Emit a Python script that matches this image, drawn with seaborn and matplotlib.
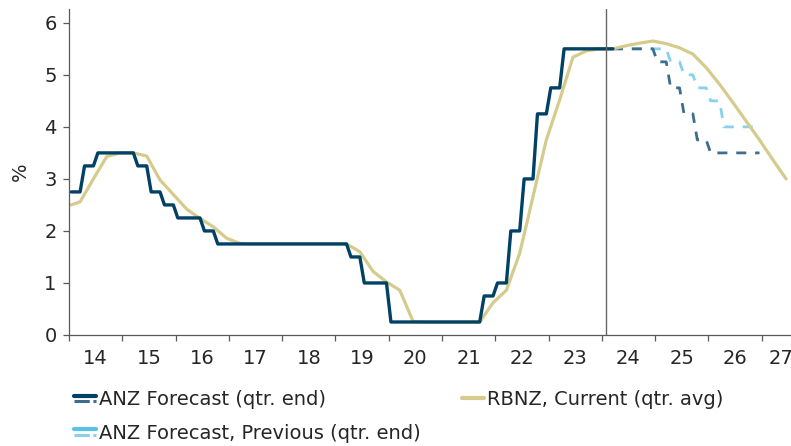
import numpy as np
import pandas as pd
import matplotlib.pyplot as plt
from matplotlib.lines import Line2D
from matplotlib.legend_handler import HandlerBase
import seaborn as sns

# ── Style ──────────────────────────────────────────────────
sns.set_theme(style="white")
plt.rcParams.update({
    'font.family'    : ['DejaVu Sans'],
    'font.size'      : 14,
    'axes.edgecolor' : '#595959',
    'axes.linewidth' : 0.9,
})

DARK       = '#004165'   # ANZ actual / forecast
DARK_DASH  = '#3E6D8D'
LIGHT      = '#5BC2E7'   # previous forecast
LIGHT_DASH = '#86D2EE'
TAN        = '#D4CB8C'   # RBNZ track
GREY       = '#666666'
FS         = 14

# ── Data (quarterly, % OCR) ────────────────────────────────
START_YEAR = 2014
anz_actual_qtr = [2.75, 3.25, 3.5, 3.5,     # 2014
                  3.5, 3.25, 2.75, 2.5,     # 2015
                  2.25, 2.25, 2.0, 1.75,    # 2016
                  1.75, 1.75, 1.75, 1.75,   # 2017
                  1.75, 1.75, 1.75, 1.75,   # 2018
                  1.75, 1.5, 1.0, 1.0,      # 2019
                  0.25, 0.25, 0.25, 0.25,   # 2020
                  0.25, 0.25, 0.25, 0.75,   # 2021
                  1.0, 2.0, 3.0, 4.25,      # 2022
                  4.75, 5.5, 5.5, 5.5,      # 2023
                  5.5]                      # 2024 Q1

FCST_YEAR = 2024
FCST_FIRST_MONTH = 3    # forecasts drawn from March 2024
anz_fcst_qtr = [5.5, 5.5, 5.5, 5.5,         # 2024
                5.25, 4.75, 4.25, 3.75,     # 2025
                3.5, 3.5, 3.5, 3.5]         # 2026
anz_prev_qtr = [5.5, 5.5, 5.5, 5.5,         # 2024
                5.5, 5.25, 5.0, 4.75,       # 2025
                4.5, 4.0, 4.0, 4.0]         # 2026

rbnz_jan14 = 2.5
rbnz_qtr = [2.56, 3.0, 3.43, 3.5,           # 2014
            3.5, 3.44, 2.98, 2.7,           # 2015
            2.42, 2.24, 2.08, 1.86,         # 2016
            1.76, 1.75, 1.75, 1.75,         # 2017
            1.75, 1.75, 1.75, 1.75,         # 2018
            1.75, 1.6, 1.22, 1.02,          # 2019
            0.86, 0.26, 0.25, 0.25,         # 2020
            0.25, 0.25, 0.25, 0.62,         # 2021
            0.86, 1.57, 2.66, 3.75,         # 2022
            4.52, 5.34, 5.46, 5.5,          # 2023
            5.5, 5.56, 5.61, 5.65,          # 2024
            5.6, 5.52, 5.4, 5.14,           # 2025
            4.82, 4.47, 4.11, 3.75,         # 2026
            3.37, 3.0]                      # 2027

year_labels = [str(y)[2:] for y in range(2014, 2028)]
MPS_DATE = 2024.08      # vertical marker
X_END, AXIS_END = 2027.55, 2027.74


def qtr_to_monthly(start_year, values):
    """Repeat each quarter-end value over its three months."""
    rows = []
    for i, v in enumerate(values):
        for m in range(3):
            rows.append((start_year + (3 * i + m + 0.5) / 12, v))
    return pd.DataFrame(rows, columns=['year', 'rate'])


actual = qtr_to_monthly(START_YEAR, anz_actual_qtr)
fcst = qtr_to_monthly(FCST_YEAR, anz_fcst_qtr)
prev = qtr_to_monthly(FCST_YEAR, anz_prev_qtr)
cut = FCST_YEAR + (FCST_FIRST_MONTH - 1) / 12
fcst, prev = fcst[fcst.year >= cut], prev[prev.year >= cut]

rbnz = pd.DataFrame({
    'year': [START_YEAR + 0.5 / 12] +
            [START_YEAR + (3 * i + 2.5) / 12 for i in range(len(rbnz_qtr))],
    'rate': [rbnz_jan14] + rbnz_qtr,
})


# ── Legend handler: solid over dashed ──────────────────────
class StackedHandler(HandlerBase):
    def __init__(self, top, bottom):
        super().__init__()
        self.top, self.bottom = top, bottom

    def create_artists(self, legend, orig_handle, xdescent, ydescent,
                       width, height, fontsize, trans):
        x = [-xdescent, width - xdescent]
        ym = height / 2 - ydescent
        a = Line2D(x, [ym + 0.17 * height] * 2, transform=trans, **self.top)
        b = Line2D(x, [ym - 0.2 * height] * 2, transform=trans, **self.bottom)
        return [a, b]


# ── Plot ───────────────────────────────────────────────────
fig = plt.figure(figsize=(7.91, 4.46), dpi=100)
ax = fig.add_axes([69 / 791, 111 / 446, 1 - 69 / 791, 325.7 / 446])

sns.lineplot(data=prev, x='year', y='rate', ax=ax, color=LIGHT_DASH,
             linewidth=2.0, linestyle=(0, (3.6, 3.2)), estimator=None, sort=False)
sns.lineplot(data=fcst, x='year', y='rate', ax=ax, color=DARK_DASH,
             linewidth=2.0, linestyle=(0, (3.6, 3.2)), estimator=None, sort=False)
sns.lineplot(data=rbnz, x='year', y='rate', ax=ax, color=TAN,
             linewidth=2.3, estimator=None, sort=False)
sns.lineplot(data=actual, x='year', y='rate', ax=ax, color=DARK,
             linewidth=2.4, estimator=None, sort=False)
ax.axvline(MPS_DATE, color=GREY, linewidth=1.0)

ax.set_xlim(START_YEAR, X_END)
ax.set_ylim(0, 6.26)
ax.set_yticks(range(0, 7))
ax.set_xticks(range(2014, 2028))
ax.set_xticklabels([])
ax.set_xticks([(y + min(y + 1, AXIS_END)) / 2 for y in range(2014, 2028)], minor=True)
ax.set_xticklabels(year_labels, minor=True)
ax.tick_params(axis='x', which='major', direction='out', length=4, width=0.9,
               color='#595959', bottom=True)
ax.tick_params(axis='x', which='minor', length=0, pad=10, labelsize=FS)
ax.tick_params(axis='y', direction='out', length=4, width=0.9, color='#595959',
               left=True, pad=5, labelsize=FS)
ax.set_xlabel('')
ax.set_ylabel('%', fontsize=FS, labelpad=10)
sns.despine(ax=ax)

h_anz = Line2D([], [], color=DARK)
h_prev = Line2D([], [], color=LIGHT)
h_rbnz = Line2D([], [], color=TAN, linewidth=3)
fig.legend(handles=[h_anz, h_prev, h_rbnz],
           labels=['ANZ Forecast (qtr. end)', 'ANZ Forecast, Previous (qtr. end)',
                   'RBNZ, Current (qtr. avg)'],
           handler_map={
               h_anz: StackedHandler(dict(color=DARK, linewidth=3),
                                     dict(color=DARK_DASH, linewidth=2.2,
                                          linestyle=(0, (5, 1.2)))),
               h_prev: StackedHandler(dict(color=LIGHT, linewidth=3),
                                      dict(color=LIGHT_DASH, linewidth=2.2,
                                           linestyle=(0, (5, 1.2)))),
           },
           ncol=2, loc='upper left', bbox_to_anchor=(74 / 791, 1 - 390 / 446),
           frameon=False, borderpad=0, borderaxespad=0, handlelength=1.15,
           handletextpad=0.15, columnspacing=2.1, labelspacing=0.75,
           fontsize=FS)

plt.savefig('out.png', dpi=100)
